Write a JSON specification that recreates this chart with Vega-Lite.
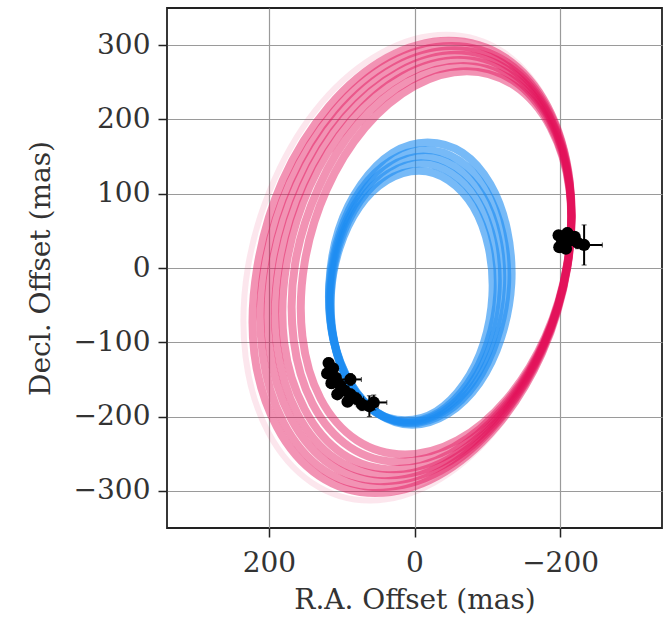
{
  "$schema": "https://vega.github.io/schema/vega-lite/v6.json",
  "width": 495,
  "height": 520,
  "autosize": {"type": "none"},
  "padding": {"left": 167, "top": 8, "right": 9, "bottom": 89},
  "background": "white",
  "config": {
    "font": "DejaVu Serif",
    "view": {"stroke": "#222", "strokeWidth": 1.8},
    "axis": {
      "labelFont": "DejaVu Serif", "titleFont": "DejaVu Serif",
      "labelFontSize": 28, "titleFontSize": 28, "titleFontWeight": "normal",
      "labelColor": "#333", "titleColor": "#333",
      "grid": true, "gridColor": "#9a9a9a", "gridWidth": 1.2,
      "tickColor": "#222", "tickSize": 9, "tickWidth": 1.5, "domain": false
    }
  },
  "datasets": {
    "red": [
      {"o":"r1","i":0,"x":-72,"y":265},{"o":"r1","i":1,"x":0,"y":245},{"o":"r1","i":2,"x":68,"y":189},{"o":"r1","i":3,"x":121,"y":105},{"o":"r1","i":4,"x":151,"y":7},{"o":"r1","i":5,"x":154,"y":-92},{"o":"r1","i":6,"x":129,"y":-176},{"o":"r1","i":7,"x":79,"y":-232},{"o":"r1","i":8,"x":13,"y":-251},{"o":"r1","i":9,"x":-59,"y":-232},{"o":"r1","i":10,"x":-127,"y":-176},{"o":"r1","i":11,"x":-180,"y":-92},{"o":"r1","i":12,"x":-210,"y":7},{"o":"r1","i":13,"x":-213,"y":105},{"o":"r1","i":14,"x":-187,"y":189},{"o":"r1","i":15,"x":-138,"y":245},
      {"o":"r2","i":0,"x":-67,"y":272},{"o":"r2","i":1,"x":7,"y":252},{"o":"r2","i":2,"x":78,"y":194},{"o":"r2","i":3,"x":132,"y":108},{"o":"r2","i":4,"x":164,"y":6},{"o":"r2","i":5,"x":166,"y":-97},{"o":"r2","i":6,"x":140,"y":-183},{"o":"r2","i":7,"x":89,"y":-241},{"o":"r2","i":8,"x":21,"y":-261},{"o":"r2","i":9,"x":-54,"y":-241},{"o":"r2","i":10,"x":-124,"y":-183},{"o":"r2","i":11,"x":-179,"y":-97},{"o":"r2","i":12,"x":-210,"y":6},{"o":"r2","i":13,"x":-213,"y":108},{"o":"r2","i":14,"x":-186,"y":194},{"o":"r2","i":15,"x":-136,"y":252},
      {"o":"r3","i":0,"x":-63,"y":280},{"o":"r3","i":1,"x":15,"y":259},{"o":"r3","i":2,"x":87,"y":199},{"o":"r3","i":3,"x":144,"y":110},{"o":"r3","i":4,"x":176,"y":5},{"o":"r3","i":5,"x":179,"y":-101},{"o":"r3","i":6,"x":151,"y":-190},{"o":"r3","i":7,"x":99,"y":-250},{"o":"r3","i":8,"x":28,"y":-271},{"o":"r3","i":9,"x":-49,"y":-250},{"o":"r3","i":10,"x":-121,"y":-190},{"o":"r3","i":11,"x":-178,"y":-101},{"o":"r3","i":12,"x":-210,"y":5},{"o":"r3","i":13,"x":-213,"y":110},{"o":"r3","i":14,"x":-186,"y":199},{"o":"r3","i":15,"x":-133,"y":259},
      {"o":"r4","i":0,"x":-59,"y":287},{"o":"r4","i":1,"x":20,"y":265},{"o":"r4","i":2,"x":95,"y":204},{"o":"r4","i":3,"x":153,"y":112},{"o":"r4","i":4,"x":186,"y":4},{"o":"r4","i":5,"x":189,"y":-104},{"o":"r4","i":6,"x":161,"y":-196},{"o":"r4","i":7,"x":107,"y":-258},{"o":"r4","i":8,"x":35,"y":-279},{"o":"r4","i":9,"x":-45,"y":-258},{"o":"r4","i":10,"x":-119,"y":-196},{"o":"r4","i":11,"x":-177,"y":-104},{"o":"r4","i":12,"x":-210,"y":4},{"o":"r4","i":13,"x":-213,"y":112},{"o":"r4","i":14,"x":-185,"y":204},{"o":"r4","i":15,"x":-131,"y":265},
      {"o":"r5","i":0,"x":-55,"y":293},{"o":"r5","i":1,"x":26,"y":271},{"o":"r5","i":2,"x":103,"y":208},{"o":"r5","i":3,"x":162,"y":114},{"o":"r5","i":4,"x":196,"y":3},{"o":"r5","i":5,"x":199,"y":-108},{"o":"r5","i":6,"x":170,"y":-202},{"o":"r5","i":7,"x":115,"y":-265},{"o":"r5","i":8,"x":41,"y":-287},{"o":"r5","i":9,"x":-40,"y":-265},{"o":"r5","i":10,"x":-117,"y":-202},{"o":"r5","i":11,"x":-176,"y":-108},{"o":"r5","i":12,"x":-210,"y":3},{"o":"r5","i":13,"x":-213,"y":114},{"o":"r5","i":14,"x":-184,"y":208},{"o":"r5","i":15,"x":-129,"y":271},
      {"o":"r6","i":0,"x":-51,"y":299},{"o":"r6","i":1,"x":32,"y":277},{"o":"r6","i":2,"x":110,"y":212},{"o":"r6","i":3,"x":171,"y":116},{"o":"r6","i":4,"x":206,"y":2},{"o":"r6","i":5,"x":209,"y":-112},{"o":"r6","i":6,"x":180,"y":-208},{"o":"r6","i":7,"x":123,"y":-273},{"o":"r6","i":8,"x":47,"y":-295},{"o":"r6","i":9,"x":-36,"y":-273},{"o":"r6","i":10,"x":-114,"y":-208},{"o":"r6","i":11,"x":-175,"y":-112},{"o":"r6","i":12,"x":-210,"y":2},{"o":"r6","i":13,"x":-213,"y":116},{"o":"r6","i":14,"x":-184,"y":212},{"o":"r6","i":15,"x":-127,"y":277},
      {"o":"r7","i":0,"x":-47,"y":306},{"o":"r7","i":1,"x":38,"y":283},{"o":"r7","i":2,"x":118,"y":217},{"o":"r7","i":3,"x":181,"y":118},{"o":"r7","i":4,"x":216,"y":1},{"o":"r7","i":5,"x":220,"y":-115},{"o":"r7","i":6,"x":189,"y":-214},{"o":"r7","i":7,"x":131,"y":-280},{"o":"r7","i":8,"x":54,"y":-303},{"o":"r7","i":9,"x":-32,"y":-280},{"o":"r7","i":10,"x":-112,"y":-214},{"o":"r7","i":11,"x":-175,"y":-115},{"o":"r7","i":12,"x":-210,"y":1},{"o":"r7","i":13,"x":-213,"y":118},{"o":"r7","i":14,"x":-183,"y":217},{"o":"r7","i":15,"x":-125,"y":283}
    ],
    "redfaint": [
      {"o":"f1","i":0,"x":-43,"y":314},{"o":"f1","i":1,"x":45,"y":290},{"o":"f1","i":2,"x":128,"y":222},{"o":"f1","i":3,"x":192,"y":120},{"o":"f1","i":4,"x":229,"y":0},{"o":"f1","i":5,"x":232,"y":-120},{"o":"f1","i":6,"x":201,"y":-221},{"o":"f1","i":7,"x":141,"y":-289},{"o":"f1","i":8,"x":61,"y":-313},{"o":"f1","i":9,"x":-27,"y":-289},{"o":"f1","i":10,"x":-109,"y":-221},{"o":"f1","i":11,"x":-174,"y":-120},{"o":"f1","i":12,"x":-210,"y":0},{"o":"f1","i":13,"x":-213,"y":120},{"o":"f1","i":14,"x":-182,"y":222},{"o":"f1","i":15,"x":-123,"y":290}
    ],
    "blue": [
      {"o":"b1","i":0,"x":-6,"y":131},{"o":"b1","i":1,"x":38,"y":118},{"o":"b1","i":2,"x":76,"y":82},{"o":"b1","i":3,"x":103,"y":27},{"o":"b1","i":4,"x":115,"y":-37},{"o":"b1","i":5,"x":110,"y":-102},{"o":"b1","i":6,"x":89,"y":-156},{"o":"b1","i":7,"x":55,"y":-193},{"o":"b1","i":8,"x":13,"y":-205},{"o":"b1","i":9,"x":-30,"y":-193},{"o":"b1","i":10,"x":-68,"y":-156},{"o":"b1","i":11,"x":-95,"y":-102},{"o":"b1","i":12,"x":-107,"y":-37},{"o":"b1","i":13,"x":-102,"y":27},{"o":"b1","i":14,"x":-81,"y":82},{"o":"b1","i":15,"x":-47,"y":118},
      {"o":"b2","i":0,"x":-9,"y":141},{"o":"b2","i":1,"x":36,"y":127},{"o":"b2","i":2,"x":75,"y":90},{"o":"b2","i":3,"x":103,"y":33},{"o":"b2","i":4,"x":115,"y":-33},{"o":"b2","i":5,"x":110,"y":-100},{"o":"b2","i":6,"x":89,"y":-156},{"o":"b2","i":7,"x":54,"y":-194},{"o":"b2","i":8,"x":11,"y":-207},{"o":"b2","i":9,"x":-34,"y":-194},{"o":"b2","i":10,"x":-73,"y":-156},{"o":"b2","i":11,"x":-101,"y":-100},{"o":"b2","i":12,"x":-114,"y":-33},{"o":"b2","i":13,"x":-109,"y":33},{"o":"b2","i":14,"x":-87,"y":90},{"o":"b2","i":15,"x":-52,"y":127},
      {"o":"b3","i":0,"x":-12,"y":150},{"o":"b3","i":1,"x":34,"y":136},{"o":"b3","i":2,"x":74,"y":98},{"o":"b3","i":3,"x":103,"y":40},{"o":"b3","i":4,"x":116,"y":-29},{"o":"b3","i":5,"x":111,"y":-98},{"o":"b3","i":6,"x":89,"y":-156},{"o":"b3","i":7,"x":52,"y":-194},{"o":"b3","i":8,"x":8,"y":-208},{"o":"b3","i":9,"x":-38,"y":-194},{"o":"b3","i":10,"x":-78,"y":-156},{"o":"b3","i":11,"x":-107,"y":-98},{"o":"b3","i":12,"x":-120,"y":-29},{"o":"b3","i":13,"x":-115,"y":40},{"o":"b3","i":14,"x":-93,"y":98},{"o":"b3","i":15,"x":-56,"y":136},
      {"o":"b4","i":0,"x":-15,"y":159},{"o":"b4","i":1,"x":32,"y":145},{"o":"b4","i":2,"x":74,"y":105},{"o":"b4","i":3,"x":103,"y":46},{"o":"b4","i":4,"x":117,"y":-25},{"o":"b4","i":5,"x":111,"y":-96},{"o":"b4","i":6,"x":88,"y":-155},{"o":"b4","i":7,"x":51,"y":-195},{"o":"b4","i":8,"x":5,"y":-209},{"o":"b4","i":9,"x":-42,"y":-195},{"o":"b4","i":10,"x":-84,"y":-155},{"o":"b4","i":11,"x":-113,"y":-96},{"o":"b4","i":12,"x":-127,"y":-25},{"o":"b4","i":13,"x":-121,"y":46},{"o":"b4","i":14,"x":-98,"y":105},{"o":"b4","i":15,"x":-61,"y":145},
      {"o":"b5","i":0,"x":-18,"y":169},{"o":"b5","i":1,"x":30,"y":155},{"o":"b5","i":2,"x":73,"y":113},{"o":"b5","i":3,"x":104,"y":52},{"o":"b5","i":4,"x":117,"y":-21},{"o":"b5","i":5,"x":112,"y":-94},{"o":"b5","i":6,"x":88,"y":-155},{"o":"b5","i":7,"x":50,"y":-196},{"o":"b5","i":8,"x":3,"y":-211},{"o":"b5","i":9,"x":-46,"y":-196},{"o":"b5","i":10,"x":-89,"y":-155},{"o":"b5","i":11,"x":-119,"y":-94},{"o":"b5","i":12,"x":-133,"y":-21},{"o":"b5","i":13,"x":-127,"y":52},{"o":"b5","i":14,"x":-104,"y":113},{"o":"b5","i":15,"x":-66,"y":155}
    ],
    "obs": [
      {"x":-198,"y":44,"xerr":6,"yerr":6},
      {"x":-203,"y":36,"xerr":6,"yerr":6},
      {"x":-199,"y":28,"xerr":5,"yerr":5},
      {"x":-210,"y":47,"xerr":6,"yerr":7},
      {"x":-212,"y":37,"xerr":7,"yerr":6},
      {"x":-220,"y":42,"xerr":6,"yerr":6},
      {"x":-208,"y":26,"xerr":5,"yerr":5},
      {"x":-224,"y":34,"xerr":8,"yerr":8},
      {"x":-233,"y":31,"xerr":25,"yerr":27},
      {"x":118,"y":-128,"xerr":6,"yerr":7},
      {"x":112,"y":-135,"xerr":7,"yerr":6},
      {"x":120,"y":-142,"xerr":6,"yerr":6},
      {"x":108,"y":-148,"xerr":6,"yerr":8},
      {"x":114,"y":-155,"xerr":7,"yerr":7},
      {"x":102,"y":-158,"xerr":6,"yerr":6},
      {"x":96,"y":-165,"xerr":7,"yerr":6},
      {"x":106,"y":-170,"xerr":6,"yerr":6},
      {"x":88,"y":-150,"xerr":15,"yerr":8},
      {"x":88,"y":-170,"xerr":8,"yerr":7},
      {"x":92,"y":-180,"xerr":6,"yerr":6},
      {"x":80,"y":-176,"xerr":10,"yerr":8},
      {"x":72,"y":-184,"xerr":8,"yerr":8},
      {"x":62,"y":-186,"xerr":12,"yerr":14},
      {"x":56,"y":-181,"xerr":18,"yerr":10}
    ]
  },
  "encoding": {
    "x": {
      "field": "x", "type": "quantitative",
      "scale": {"domain": [-340, 340], "reverse": true, "nice": false, "zero": false},
      "axis": {"values": [-200, 0, 200], "title": "R.A. Offset (mas)", "labelPadding": 12, "titlePadding": 9}
    },
    "y": {
      "field": "y", "type": "quantitative",
      "scale": {"domain": [-350, 350], "nice": false, "zero": false},
      "axis": {"values": [-300, -200, -100, 0, 100, 200, 300], "title": "Decl. Offset (mas)", "labelPadding": 8, "titlePadding": 18}
    }
  },
  "layer": [
    {
      "data": {"name": "redfaint"},
      "mark": {"type": "line", "interpolate": "cardinal-closed", "color": "#e8306a", "strokeWidth": 6, "opacity": 0.12},
      "encoding": {"detail": {"field": "o"}, "order": {"field": "i", "type": "quantitative"}}
    },
    {
      "data": {"name": "red"},
      "mark": {"type": "line", "interpolate": "cardinal-closed", "color": "#e20f58", "strokeWidth": 8, "opacity": 0.45},
      "encoding": {"detail": {"field": "o"}, "order": {"field": "i", "type": "quantitative"}}
    },
    {
      "data": {"name": "blue"},
      "mark": {"type": "line", "interpolate": "cardinal-closed", "color": "#1c8cf2", "strokeWidth": 8, "opacity": 0.6},
      "encoding": {"detail": {"field": "o"}, "order": {"field": "i", "type": "quantitative"}}
    },
    {
      "data": {"name": "obs"},
      "mark": {"type": "errorbar", "ticks": true, "color": "black", "rule": {"strokeWidth": 2}},
      "encoding": {"xError": {"field": "xerr"}}
    },
    {
      "data": {"name": "obs"},
      "mark": {"type": "errorbar", "ticks": true, "color": "black", "rule": {"strokeWidth": 2}},
      "encoding": {"yError": {"field": "yerr"}}
    },
    {
      "data": {"name": "obs"},
      "mark": {"type": "point", "filled": true, "color": "black", "size": 150, "opacity": 1},
      "encoding": {}
    }
  ]
}
